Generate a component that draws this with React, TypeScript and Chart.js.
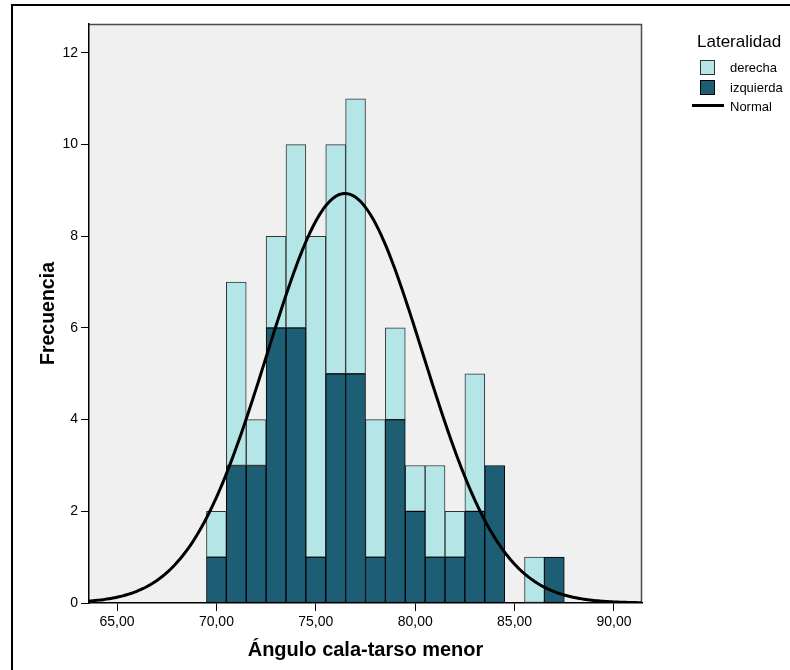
import React, { useEffect, useRef } from 'react';
import { Chart, registerables } from 'chart.js';

Chart.register(...registerables);

// ---- Data ----
const BIN_CENTERS = [70, 71, 72, 73, 74, 75, 76, 77, 78, 79, 80, 81, 82, 83, 84, 85, 86, 87];
const IZQUIERDA = [1, 3, 3, 6, 6, 1, 5, 5, 1, 4, 2, 1, 1, 2, 3, 0, 0, 1];
const DERECHA = [1, 4, 1, 2, 4, 7, 5, 6, 3, 2, 1, 2, 1, 3, 0, 0, 1, 0];

const X_TICKS = [65, 70, 75, 80, 85, 90];
const X_TICK_LABELS = ['65,00', '70,00', '75,00', '80,00', '85,00', '90,00'];
const Y_TICKS = [0, 2, 4, 6, 8, 10, 12];

const X_MIN = 63.59;
const X_MAX = 91.41;
const Y_MAX = 12.63;

// Fitted normal curve parameters
const NORMAL_MEAN = 76.47;
const NORMAL_SD = 3.93;
const BIN_WIDTH = 1;
const CURVE_STEP = 0.1;

const LIGHT = '#b4e6e7';
const DARK = '#1d5e75';
const FONT = 'Arial, "Liberation Sans", sans-serif';

const nonZero = (arr: number[]) => arr.map((v, i) => (v > 0 ? { x: BIN_CENTERS[i], y: v } : { x: BIN_CENTERS[i], y: null }));

function normalCurve() {
  const n = [...IZQUIERDA, ...DERECHA].reduce((a, b) => a + b, 0);
  const pts: { x: number; y: number }[] = [];
  const steps = Math.round((X_MAX - X_MIN) / CURVE_STEP);
  for (let i = 0; i <= steps; i++) {
    const x = X_MIN + i * CURVE_STEP;
    const z = (x - NORMAL_MEAN) / NORMAL_SD;
    const y = (n * BIN_WIDTH) / (NORMAL_SD * Math.sqrt(2 * Math.PI)) * Math.exp(-0.5 * z * z);
    pts.push({ x, y });
  }
  return pts;
}

const framePlugin = {
  id: 'frame',
  beforeDraw(chart: any) {
    const { ctx, chartArea: a, width, height } = chart;
    ctx.save();
    ctx.fillStyle = '#ffffff';
    ctx.fillRect(0, 0, width, height);
    ctx.fillStyle = '#f0f0f0';
    ctx.fillRect(a.left, a.top, a.right - a.left, a.bottom - a.top);
    ctx.strokeStyle = '#000';
    ctx.lineWidth = 2;
    ctx.beginPath();
    ctx.moveTo(12, height);
    ctx.lineTo(12, 5);
    ctx.lineTo(width, 5);
    ctx.stroke();
    ctx.strokeStyle = '#4a4a4a';
    ctx.lineWidth = 1.5;
    ctx.beginPath();
    ctx.moveTo(a.left, a.top + 0.5);
    ctx.lineTo(a.right - 0.5, a.top + 0.5);
    ctx.lineTo(a.right - 0.5, a.bottom);
    ctx.stroke();
    ctx.restore();
  },
};

export default function App() {
  const ref = useRef<HTMLCanvasElement | null>(null);

  useEffect(() => {
    if (!ref.current) return;
    const tickFont = { family: FONT, size: 14 };
    const titleFont = { family: FONT, size: 20, weight: 'bold' as const };
    const chart = new Chart(ref.current, {
      type: 'bar',
      data: {
        datasets: [
          {
            type: 'line' as const,
            label: 'Normal',
            data: normalCurve(),
            borderColor: '#000',
            borderWidth: 3,
            pointRadius: 0,
            tension: 0,
            fill: false,
            stack: 'normal',
            order: -1,
          } as any,
          {
            label: 'izquierda',
            data: nonZero(IZQUIERDA),
            backgroundColor: DARK,
            borderColor: '#000',
            borderWidth: 1,
            borderSkipped: false,
            barPercentage: 1,
            categoryPercentage: 1,
            stack: 'hist',
          },
          {
            label: 'derecha',
            data: nonZero(DERECHA),
            backgroundColor: LIGHT,
            borderColor: '#333',
            borderWidth: 1,
            borderSkipped: false,
            barPercentage: 1,
            categoryPercentage: 1,
            stack: 'hist',
          },
        ],
      },
      options: {
        animation: false,
        responsive: false,
        maintainAspectRatio: false,
        layout: { padding: { left: 0, top: 24, right: 148, bottom: 0 } },
        plugins: { legend: { display: false }, tooltip: { enabled: false } },
        scales: {
          x: {
            type: 'linear',
            min: X_MIN,
            max: X_MAX,
            stacked: true,
            offset: false,
            afterBuildTicks: (s: any) => {
              s.ticks = X_TICKS.map((v) => ({ value: v }));
            },
            afterFit: (s: any) => {
              s.height = 67;
            },
            ticks: {
              callback: (_v: any, i: number) => X_TICK_LABELS[i],
              font: tickFont,
              color: '#000',
              padding: 3,
              maxRotation: 0,
              autoSkip: false,
            },
            grid: { drawOnChartArea: false, drawTicks: true, tickLength: 8, color: '#000', offset: false },
            border: { display: true, color: '#000', width: 1.5 },
            title: {
              display: true,
              text: 'Ángulo cala-tarso menor',
              font: titleFont,
              color: '#000',
              padding: { top: 0, bottom: 8 },
            },
          },
          y: {
            type: 'linear',
            min: 0,
            max: Y_MAX,
            stacked: true,
            afterBuildTicks: (s: any) => {
              s.ticks = Y_TICKS.map((v) => ({ value: v }));
            },
            afterFit: (s: any) => {
              s.width = 89;
            },
            ticks: { font: tickFont, color: '#000', padding: 3 },
            grid: { drawOnChartArea: false, drawTicks: true, tickLength: 8, color: '#000' },
            border: { display: true, color: '#000', width: 1.5 },
            title: {
              display: true,
              text: 'Frecuencia',
              font: { family: FONT, size: 19.5, weight: 'bold' as const },
              color: '#000',
              padding: { top: 37, bottom: 0 },
            },
          },
        },
      } as any,
      plugins: [framePlugin],
    });
    return () => chart.destroy();
  }, []);

  const legendText: React.CSSProperties = {
    position: 'absolute',
    fontFamily: FONT,
    fontSize: 13,
    lineHeight: '15px',
    color: '#000',
    whiteSpace: 'nowrap',
  };

  return (
    <div style={{ position: 'absolute', left: 0, top: 0, width: 790, height: 670, overflow: 'hidden', background: '#fff' }}>
      <canvas ref={ref} width={790} height={670} style={{ width: 790, height: 670, display: 'block' }} />
      <div style={{ ...legendText, left: 697, top: 31, fontSize: 17, lineHeight: '22px' }}>Lateralidad</div>
      <div style={{ position: 'absolute', left: 700, top: 60, width: 13, height: 13, background: LIGHT, border: '1px solid #333' }} />
      <div style={{ ...legendText, left: 730, top: 60 }}>derecha</div>
      <div style={{ position: 'absolute', left: 700, top: 80, width: 13, height: 13, background: DARK, border: '1px solid #000' }} />
      <div style={{ ...legendText, left: 730, top: 80 }}>izquierda</div>
      <div style={{ position: 'absolute', left: 692, top: 104, width: 32, height: 3, background: '#000' }} />
      <div style={{ ...legendText, left: 730, top: 99 }}>Normal</div>
    </div>
  );
}
